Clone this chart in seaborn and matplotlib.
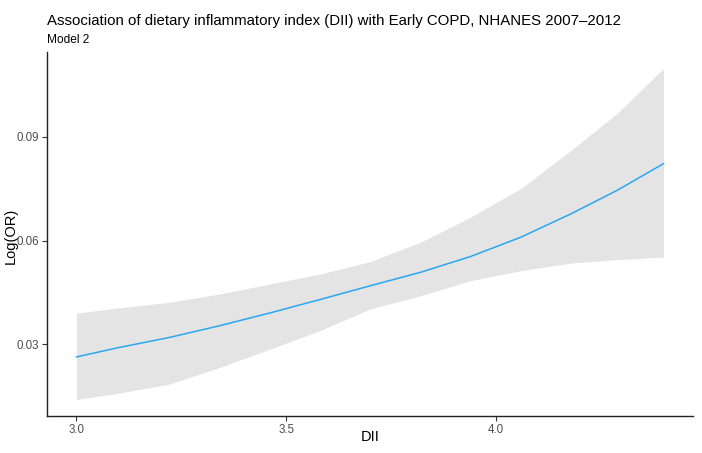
import matplotlib
matplotlib.use("Agg")
import matplotlib.pyplot as plt
import seaborn as sns
import pandas as pd

# Data
dii = [3.00, 3.10, 3.22, 3.34, 3.46, 3.58, 3.70, 3.82, 3.94, 4.06, 4.18, 4.29, 4.40]
log_or = [0.0263, 0.0290, 0.0319, 0.0353, 0.0390, 0.0429, 0.0469, 0.0508,
          0.0554, 0.0610, 0.0678, 0.0746, 0.0823]
upper = [0.0390, 0.0405, 0.0421, 0.0445, 0.0474, 0.0503, 0.0539, 0.0595,
         0.0668, 0.0751, 0.0862, 0.0969, 0.1099]
lower = [0.0140, 0.0158, 0.0184, 0.0232, 0.0285, 0.0339, 0.0402, 0.0440,
         0.0484, 0.0513, 0.0535, 0.0545, 0.0552]
x_ticks = [3.0, 3.5, 4.0]
x_tick_labels = ["3.0", "3.5", "4.0"]
y_ticks = [0.03, 0.06, 0.09]
y_tick_labels = ["0.03", "0.06", "0.09"]

title = "Association of dietary inflammatory index (DII) with Early COPD, NHANES 2007\u20132012"
subtitle = "Model 2"

df = pd.DataFrame({"DII": dii, "logOR": log_or, "upper": upper, "lower": lower})

sns.set_style("white")
plt.rcParams["font.family"] = ["Liberation Sans", "DejaVu Sans"]

W, H = 702, 453
fig = plt.figure(figsize=(W / 100, H / 100), dpi=100)
ax = fig.add_axes([47 / W, 37 / H, 646 / W, 364.3 / H])

ax.fill_between(df["DII"], df["lower"], df["upper"], color="#E4E4E4", linewidth=0, zorder=1)
sns.lineplot(data=df, x="DII", y="logOR", ax=ax, color="#2AA6F2", linewidth=1.1, zorder=2)

# ggplot-like 5% expansion
xr = max(dii) - min(dii)
ax.set_xlim(min(dii) - 0.05 * xr, max(dii) + 0.05 * xr)
ymin, ymax = min(lower), max(upper)
yr = ymax - ymin
ax.set_ylim(ymin - 0.05 * yr, ymax + 0.05 * yr)

ax.set_xticks(x_ticks)
ax.set_xticklabels(x_tick_labels)
ax.set_yticks(y_ticks)
ax.set_yticklabels(y_tick_labels)
ax.tick_params(axis="both", which="both", direction="out", length=3.5, width=0.8,
               color="#333333", labelcolor="#4D4D4D", labelsize=8.3, pad=2.5,
               bottom=True, left=True)

for side in ["top", "right"]:
    ax.spines[side].set_visible(False)
for side in ["left", "bottom"]:
    ax.spines[side].set_color("#222222")
    ax.spines[side].set_linewidth(1.0)

ax.set_xlabel("")
ax.set_ylabel("")
ax.grid(False)

fig.text(370 / W, 1 - 437 / H, "DII", fontsize=10.5, ha="center", va="center", color="black")
fig.text(11 / W, 1 - 236 / H, "Log(OR)", fontsize=10.5, ha="center", va="center",
         rotation=90, color="black")

fig.text(47 / W, 1 - 21 / H, title, fontsize=10.8, ha="left", va="center", color="black")
fig.text(47 / W, 1 - 40 / H, subtitle, fontsize=8.6, ha="left", va="center", color="black")

fig.savefig("out.png", dpi=100, facecolor="white")
